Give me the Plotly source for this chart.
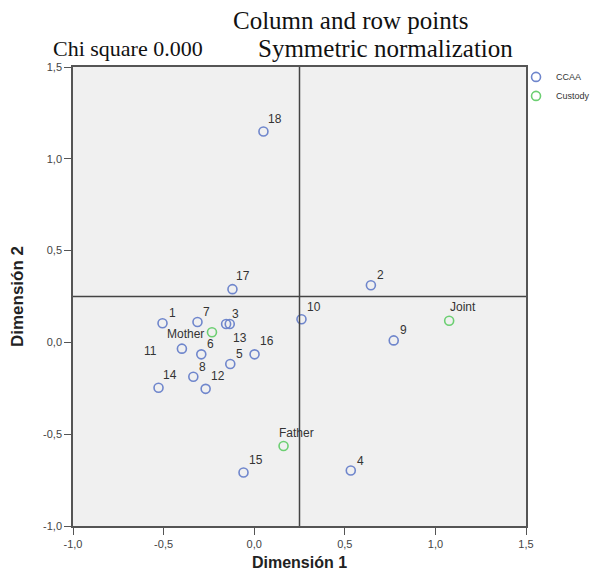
import plotly.graph_objects as go

# ---- data ----
ccaa_labels = [str(i) for i in range(1, 19)]
ccaa_x = [-0.506, 0.644, -0.155, 0.533, -0.132, -0.292, -0.313, -0.336, 0.770,
          0.261, -0.399, -0.268, -0.135, -0.528, -0.059, 0.002, -0.120, 0.051]
ccaa_y = [0.104, 0.311, 0.100, -0.698, -0.118, -0.065, 0.111, -0.187, 0.011,
          0.126, -0.034, -0.253, 0.100, -0.247, -0.709, -0.065, 0.290, 1.149]

custody_labels = ["Mother", "Joint", "Father"]
custody_x = [-0.233, 1.076, 0.162]
custody_y = [0.055, 0.118, -0.564]

ref_x = 0.25
ref_y = 0.25

tick_vals = [-1.0, -0.5, 0.0, 0.5, 1.0, 1.5]
tick_text = ["-1,0", "-0,5", "0,0", "0,5", "1,0", "1,5"]

title_text = "Column and row points"
chi_text = "Chi square 0.000"
norm_text = "Symmetric normalization"

# ---- styles ----
blue = "#6f86cc"
green = "#6ccf72"
label_font = dict(family="Liberation Sans, Arial", size=12, color="#333333")
default_off = (9.5, -10.0)  # screen px (dx, dy down)
label_off = {
    "18": (11.7, -12.4), "17": (11, -13), "10": (12.7, -12), "Joint": (14, -13.4),
    "16": (12.4, -13.3), "12": (12, -12.7), "14": (11.7, -12.7), "Father": (12.7, -13),
    "15": (12.4, -12.3), "13": (10.6, 13.7), "Mother": (-26, 2), "11": (-31, 2),
}

fig = go.Figure()
fig.add_trace(go.Scatter(
    x=ccaa_x, y=ccaa_y, mode="markers", name="CCAA",
    marker=dict(symbol="circle-open", size=9, color=blue, line=dict(width=1.6, color=blue)),
))
fig.add_trace(go.Scatter(
    x=custody_x, y=custody_y, mode="markers", name="Custody",
    marker=dict(symbol="circle-open", size=9, color=green, line=dict(width=1.6, color=green)),
))

annotations = []
for labs, xs, ys in [(ccaa_labels, ccaa_x, ccaa_y), (custody_labels, custody_x, custody_y)]:
    for lab, xv, yv in zip(labs, xs, ys):
        dx, dy = label_off.get(lab, default_off)
        annotations.append(dict(
            x=xv, y=yv, xref="x", yref="y", text=lab, showarrow=False,
            xshift=dx, yshift=-dy, xanchor="center", yanchor="middle", font=label_font,
        ))

serif = "Liberation Serif, Times New Roman, serif"
annotations += [
    dict(x=0.6115, y=1.101, xref="paper", yref="paper", text=title_text, showarrow=False,
         xanchor="center", yanchor="middle", font=dict(family=serif, size=25, color="#111111")),
    dict(x=0.1214, y=1.040, xref="paper", yref="paper", text=chi_text, showarrow=False,
         xanchor="center", yanchor="middle", font=dict(family=serif, size=22, color="#111111")),
    dict(x=0.689, y=1.040, xref="paper", yref="paper", text=norm_text, showarrow=False,
         xanchor="center", yanchor="middle", font=dict(family=serif, size=25, color="#111111")),
]

shapes = [
    dict(type="line", xref="x", yref="paper", x0=ref_x, x1=ref_x, y0=0, y1=1,
         line=dict(color="#444444", width=1.5)),
    dict(type="line", xref="paper", yref="y", x0=0, x1=1, y0=ref_y, y1=ref_y,
         line=dict(color="#444444", width=1.5)),
]

axis_common = dict(
    range=[-1.0, 1.5], tickvals=tick_vals, ticktext=tick_text,
    ticks="outside", ticklen=7, tickwidth=1.2, tickcolor="#555555",
    showline=True, mirror=True, linecolor="#555555", linewidth=1.5,
    showgrid=False, zeroline=False, automargin=False,
    tickfont=dict(family="Liberation Sans, Arial", size=11, color="#444444"),
)

# page body has an 8px default margin, so the figure is drawn 8px in from the corner
fig.update_layout(
    width=592, height=572,
    margin=dict(l=65, r=74, t=59, b=54, autoexpand=False),
    paper_bgcolor="white", plot_bgcolor="#f0f0f0",
    xaxis=dict(**axis_common,
               title=dict(text="<b>Dimensión 1</b>", standoff=8,
                          font=dict(family="Liberation Sans, Arial", size=16, color="#222222"))),
    yaxis=dict(**axis_common,
               title=dict(text="<b>Dimensión 2</b>", standoff=15,
                          font=dict(family="Liberation Sans, Arial", size=17, color="#222222"))),
    legend=dict(x=0.978, y=1.01, xanchor="left", yanchor="top", itemwidth=30,
                font=dict(family="Liberation Sans, Arial", size=9, color="#333333"),
                bgcolor="rgba(0,0,0,0)", tracegroupgap=0),
    annotations=annotations, shapes=shapes,
    showlegend=True,
)

fig.write_html("out.html")
